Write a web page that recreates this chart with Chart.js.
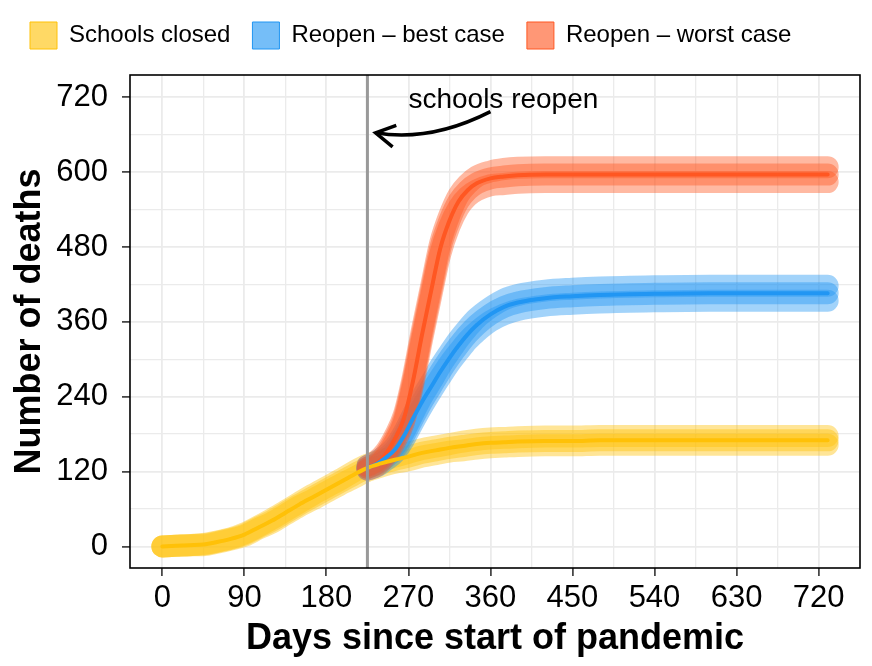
<!DOCTYPE html>
<html>
<head>
<meta charset="utf-8">
<script src="https://cdn.jsdelivr.net/npm/chart.js@4.4.1/dist/chart.umd.min.js"></script>
<style>
  html, body { margin: 0; padding: 0; background: #fff; }
  #wrap { width: 872px; height: 666px; }
</style>
</head>
<body>
<div id="wrap"><canvas id="deaths"></canvas></div>
<script>
const seriesNames = ['Schools closed', 'Reopen – best case', 'Reopen – worst case'];

// schools closed, whole period
const closedDays   = [0, 15, 30, 45, 60, 75, 90, 105, 120, 135, 150, 165, 180, 195, 210, 225, 240, 255, 270, 285, 300, 315, 330, 345, 360, 375, 390, 420, 450, 480, 540, 600, 660, 730];
const closedDeaths = [0, 1, 2, 3, 7, 12, 19, 30, 41, 54, 67, 79, 91, 103, 115, 126, 133, 139, 144, 150, 154, 158, 161, 164, 166, 167, 168, 169, 169, 170, 170, 170, 170, 170];
// half width of the simulation band, in deaths
const closedSpread = [0, 0, 0, 1, 1, 1, 2, 2, 3, 3, 3, 4, 4, 4, 5, 5, 5, 5, 6, 6, 6, 6, 7, 7, 7, 7, 7, 7, 7, 7, 7, 7, 7, 7];

// reopening scenarios start at day 225
const reopenDays  = [225, 235, 245, 255, 265, 275, 285, 295, 305, 315, 325, 335, 345, 360, 375, 390, 420, 450, 480, 540, 600, 660, 730];
const bestDeaths  = [126, 132, 142, 155, 177, 205, 232, 256, 280, 302, 322, 340, 355, 372, 384, 391, 398, 401, 403, 405, 406, 406, 406];
const bestSpread  = [3, 4, 4, 5, 6, 7, 8, 8, 9, 9, 10, 10, 11, 11, 12, 12, 12, 12, 12, 12, 12, 12, 12];
const worstDeaths = [126, 133, 148, 172, 205, 265, 340, 410, 478, 522, 553, 571, 582, 590, 593, 595, 596, 596, 596, 596, 596, 596, 596];
const worstSpread = [3, 4, 4, 5, 6, 7, 8, 8, 9, 9, 10, 10, 11, 11, 12, 12, 12, 12, 12, 12, 12, 12, 12];

const xTickLabels = [0, 90, 180, 270, 360, 450, 540, 630, 720];
const yTickLabels = [0, 120, 240, 360, 480, 600, 720];

const reopenDay = 225;
const noteText = 'schools reopen';
const notePos = [270, 702];      // [day, deaths]
const arrowFrom = [360, 697];
const arrowVia = [294, 648];
const arrowTo = [234, 663];

const FONT = "'Liberation Sans', Arial, Helvetica, sans-serif";
const lineColors = ['#FFC107', '#2196F3', '#FF5722'];
const bandColors = ['rgba(255,193,7,0.42)', 'rgba(33,150,243,0.42)', 'rgba(255,87,34,0.42)'];
const keyColors = ['rgba(255,193,7,0.62)', 'rgba(33,150,243,0.62)', 'rgba(255,87,34,0.62)'];

const groups = [
  { days: closedDays, vals: closedDeaths, spread: closedSpread },
  { days: reopenDays, vals: bestDeaths, spread: bestSpread },
  { days: reopenDays, vals: worstDeaths, spread: worstSpread }
];

function toPoints(days, vals, spread, side) {
  return days.map((d, i) => ({ x: d, y: vals[i] + side * spread[i] }));
}

const common = { pointRadius: 0, pointHoverRadius: 0, fill: false, cubicInterpolationMode: 'monotone', borderCapStyle: 'round', borderJoinStyle: 'round' };

const datasets = [];
groups.forEach((g, i) => {
  datasets.push(Object.assign({ label: seriesNames[i], data: toPoints(g.days, g.vals, g.spread, 0),
    borderColor: lineColors[i], borderWidth: 4, order: 0 }, common));
});
groups.forEach((g, i) => {
  [-1, 0, 1].forEach(side => {
    datasets.push(Object.assign({ label: seriesNames[i] + ' band', data: toPoints(g.days, g.vals, g.spread, side),
      borderColor: bandColors[i], borderWidth: 22, order: 3 - i }, common));
  });
});

// ggplot style legend strip: fixed height
const legendHeight = {
  id: 'legendHeight',
  beforeInit(chart) {
    const fit = chart.legend.fit;
    chart.legend.fit = function () { fit.call(this); this.height = 75; };
  }
};

const overlay = {
  id: 'overlay',
  afterDatasetsDraw(chart) {
    const { ctx, chartArea: a, scales: { x, y } } = chart;
    ctx.save();
    const px = x.getPixelForValue(reopenDay);
    ctx.strokeStyle = '#999999';
    ctx.lineWidth = 3;
    ctx.beginPath();
    ctx.moveTo(px, a.top);
    ctx.lineTo(px, a.bottom);
    ctx.stroke();

    ctx.fillStyle = '#000';
    ctx.font = '28px ' + FONT;
    ctx.textAlign = 'left';
    ctx.textBaseline = 'alphabetic';
    ctx.fillText(noteText, x.getPixelForValue(notePos[0]), y.getPixelForValue(notePos[1]));

    const p0 = [x.getPixelForValue(arrowFrom[0]), y.getPixelForValue(arrowFrom[1])];
    const c = [x.getPixelForValue(arrowVia[0]), y.getPixelForValue(arrowVia[1])];
    const p1 = [x.getPixelForValue(arrowTo[0]), y.getPixelForValue(arrowTo[1])];
    ctx.strokeStyle = '#000';
    ctx.lineWidth = 3.5;
    ctx.beginPath();
    ctx.moveTo(p0[0], p0[1]);
    ctx.quadraticCurveTo(c[0], c[1], p1[0], p1[1]);
    ctx.stroke();
    const ang = Math.atan2(p1[1] - c[1], p1[0] - c[0]);
    const L = 22;
    ctx.beginPath();
    ctx.moveTo(p1[0] - L * Math.cos(ang - 0.52), p1[1] - L * Math.sin(ang - 0.52));
    ctx.lineTo(p1[0], p1[1]);
    ctx.lineTo(p1[0] - L * Math.cos(ang + 0.52), p1[1] - L * Math.sin(ang + 0.52));
    ctx.stroke();

    ctx.strokeStyle = '#000';
    ctx.lineWidth = 1.6;
    ctx.strokeRect(a.left, a.top, a.right - a.left, a.bottom - a.top);
    ctx.restore();
  }
};

const tickFont = { family: FONT, size: 31 };
const titleFont = { family: FONT, size: 36, weight: 'bold' };

function gridFor(labels) {
  return {
    color: '#EBEBEB',
    lineWidth: c => (c.tick && labels.includes(c.tick.value)) ? 1.8 : 1.3,
    tickColor: c => (c.tick && labels.includes(c.tick.value)) ? '#333' : 'rgba(0,0,0,0)',
    tickWidth: 1.6,
    tickLength: 8,
    drawTicks: true
  };
}

new Chart(document.getElementById('deaths'), {
  type: 'line',
  data: { datasets: datasets },
  options: {
    responsive: true,
    maintainAspectRatio: false,
    animation: false,
    events: [],
    layout: { padding: { left: 8, right: 12, top: 0, bottom: 0 } },
    plugins: {
      tooltip: { enabled: false },
      legend: {
        position: 'top',
        align: 'start',
        labels: {
          boxWidth: 27,
          boxHeight: 27,
          padding: 22,
          color: '#000',
          font: { family: FONT, size: 24 },
          generateLabels: () => seriesNames.map((name, i) => ({
            text: name, fillStyle: keyColors[i], strokeStyle: lineColors[i],
            lineWidth: 1, hidden: false, datasetIndex: i
          }))
        }
      }
    },
    scales: {
      x: {
        type: 'linear',
        min: -35.5,
        max: 765.5,
        afterFit: s => { s.height = 98; },
        border: { display: false },
        grid: gridFor(xTickLabels),
        ticks: {
          stepSize: 45,
          includeBounds: false,
          autoSkip: false,
          maxRotation: 0,
          padding: 4,
          color: '#000',
          font: tickFont,
          callback: v => xTickLabels.includes(v) ? String(v) : ''
        },
        title: { display: true, text: 'Days since start of pandemic', color: '#000', font: titleFont, padding: { top: 0, bottom: 5 } }
      },
      y: {
        type: 'linear',
        min: -34.6,
        max: 755.7,
        afterFit: s => { s.width = 122; },
        border: { display: false },
        grid: gridFor(yTickLabels),
        ticks: {
          stepSize: 60,
          includeBounds: false,
          autoSkip: false,
          padding: 14,
          color: '#000',
          font: tickFont,
          callback: v => yTickLabels.includes(v) ? String(v) : ''
        },
        title: { display: true, text: 'Number of deaths', color: '#000', font: titleFont, padding: { top: 0, bottom: 0 } }
      }
    }
  },
  plugins: [legendHeight, overlay]
});
</script>
</body>
</html>
